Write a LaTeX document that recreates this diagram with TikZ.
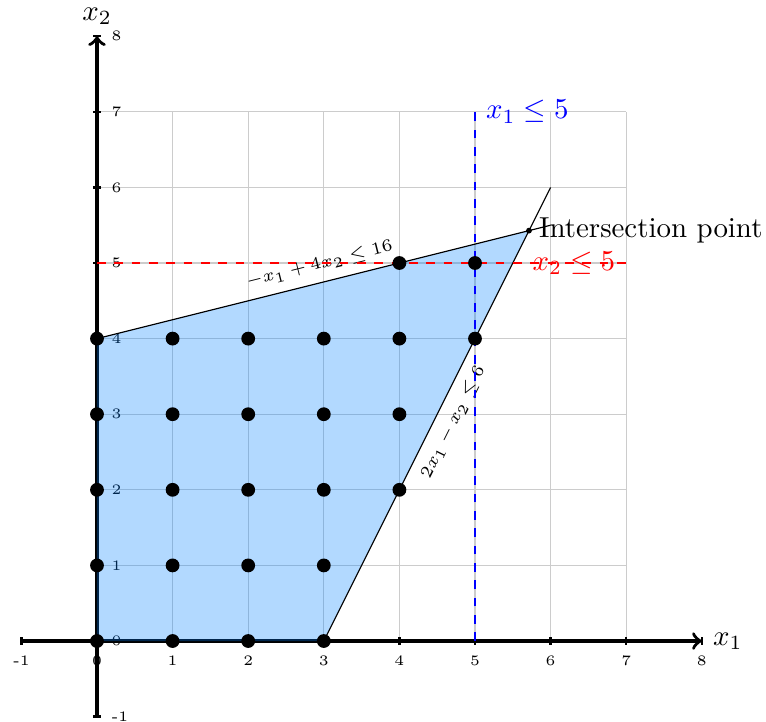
\documentclass[tikz,border=0pt]{standalone}

\begin{document}
\begin{tikzpicture}[
  scale=0.92,
  gridline/.style={draw=gray!40, thin},
  axisline/.style={draw, very thick, ->},
  axistick/.style={draw, thick},
  ticklabel/.style={inner sep=3.33pt},
  region/.style={fill={rgb,255:red,0;green,128;blue,255}, fill opacity=0.3},
  bound/.style={draw, black},
  linelabel/.style={midway, sloped, font=\fontsize{6}{7}\selectfont},
  limit/.style={draw, line width=1pt, dashed},
  lattice/.style={fill=black}
]
\useasboundingbox (-1.283,-1.071) rectangle (8.849,8.479);

\coordinate (O) at (0,0);
\coordinate (A) at (3,0);
\coordinate (B) at (0,4);
\coordinate (P) at (40/7,38/7);
\coordinate (Bend) at (6,5.5);
\coordinate (Aend) at (6,6);

\draw[gridline] (0,0) grid (7,7);

% axes
\draw[axisline] (-1,0) -- (8,0) node[right] (xlabel) {$x_1$};
\draw[axisline] (0,-1) -- (0,8) node[above] (ylabel) {$x_2$};
\foreach \i in {-1,...,8} {
  \draw[axistick] (\i,0.05) -- (\i,-0.05) node[below, ticklabel] (xt\i) {\tiny \i};
  \draw[axistick] (-0.05,\i) -- (0.05,\i) node[right, ticklabel] (yt\i) {\tiny \i};
}

% feasible region
\fill[region] (O) -- (A) -- (P) -- (B) -- cycle;

\draw[bound] (B) -- (Bend) node[linelabel, above] (c1) {$-x_1+4x_2\le 16$};
\draw[bound] (A) -- (Aend) node[linelabel, below] (c2) {$2x_1-x_2\le 6$};

\draw[limit, red] (0,5) -- (7,5) node[left] (c3) {$x_2\le 5$};
\draw[limit, blue] (5,0) -- (5,7) node[right] (c4) {$x_1\le 5$};

% integer points
\foreach \p in {(0,0),(1,0),(2,0),(3,0),
                (0,1),(1,1),(2,1),(3,1),
                (0,2),(1,2),(2,2),(3,2),(4,2),
                (0,3),(1,3),(2,3),(3,3),(4,3),
                (0,4),(1,4),(2,4),(3,4),(4,4),(5,4),
                (4,5),(5,5)}
  \fill[lattice] \p circle (2.6pt);

\fill[lattice] (P) circle (1.1pt);
\node[right] (plabel) at (P) {Intersection point};
\end{tikzpicture}
\end{document}
